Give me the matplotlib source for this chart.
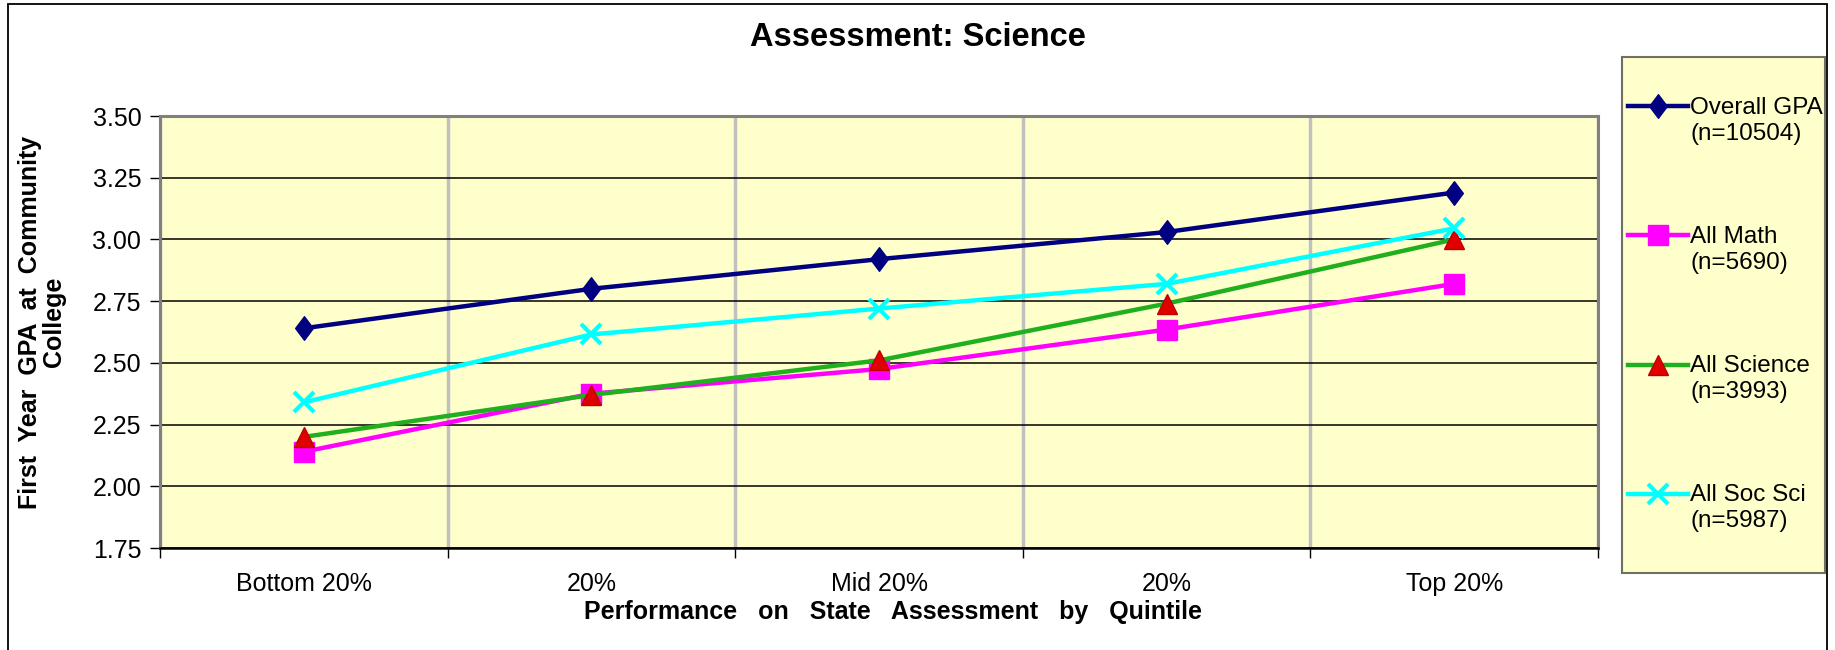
import numpy as np
import matplotlib
matplotlib.use("Agg")
import matplotlib.pyplot as plt
from matplotlib.patches import Rectangle
from matplotlib.path import Path
from matplotlib.legend_handler import HandlerLine2D

plt.rcParams['font.family'] = ['Liberation Sans', 'DejaVu Sans']

# data
quintiles = ['Bottom 20%', '20%', 'Mid 20%', '20%', 'Top 20%']
overall_gpa = [2.64, 2.80, 2.92, 3.03, 3.19]
all_math = [2.14, 2.375, 2.475, 2.635, 2.82]
all_science = [2.20, 2.37, 2.51, 2.74, 3.00]
all_soc_sci = [2.34, 2.615, 2.72, 2.82, 3.045]
labels = ['Overall GPA\n(n=10504)', 'All Math\n(n=5690)',
          'All Science\n(n=3993)', 'All Soc Sci\n(n=5987)']
yticks = [1.75, 2.00, 2.25, 2.50, 2.75, 3.00, 3.25, 3.50]

W, H = 1835, 650
fig = plt.figure(figsize=(W / 100, H / 100), dpi=100)

# outer chart border
fig.patches.append(Rectangle((8 / W, -0.02), (1827 - 8) / W, 1 - 4 / H + 0.02,
                             transform=fig.transFigure, fill=False,
                             edgecolor='black', lw=1.3))

ax = fig.add_axes([160 / W, 1 - 548 / H, (1598 - 160) / W, (548 - 116) / H])
ax.set_facecolor('#FFFFCC')

x = np.arange(len(quintiles))
diamond = Path([(0, 1), (0.75, 0), (0, -1), (-0.75, 0), (0, 1)],
               [Path.MOVETO, Path.LINETO, Path.LINETO, Path.LINETO, Path.CLOSEPOLY])

ax.plot(x, overall_gpa, color='#000080', lw=3.2, marker=diamond, ms=17,
        mfc='#000080', mec='#000080', label=labels[0], zorder=5)
ax.plot(x, all_math, color='#FF00FF', lw=3.2, marker='s', ms=14,
        mfc='#FF00FF', mec='#FF00FF', label=labels[1], zorder=4)
ax.plot(x, all_science, color='#1FAF1F', lw=3.2, marker='^', ms=14,
        mfc='#E00000', mec='#C00000', label=labels[2], zorder=4)
ax.plot(x, all_soc_sci, color='#00FFFF', lw=3.2, marker='x', ms=15, mew=3,
        mec='#00FFFF', label=labels[3], zorder=4)

ax.set_xlim(-0.5, len(quintiles) - 0.5)
ax.set_ylim(1.75, 3.5)
ax.set_yticks(yticks)
ax.set_yticklabels([f'{v:.2f}' for v in yticks])
ax.set_xticks(x)
ax.set_xticklabels(quintiles)
ax.set_xticks(np.arange(-0.5, len(quintiles)), minor=True)
ax.tick_params(axis='x', which='major', length=0, pad=17, labelsize=18)
ax.tick_params(axis='x', which='minor', length=7, width=1, direction='out', color='black')
ax.tick_params(axis='y', length=7, width=1, pad=6.5, labelsize=18)

ax.grid(axis='y', color='black', lw=1.1)
ax.grid(axis='x', which='minor', color='#C0C0C0', lw=2.5)
ax.set_axisbelow(True)
for s in ['top', 'right', 'left']:
    ax.spines[s].set_color('#808080')
    ax.spines[s].set_linewidth(2.2)
ax.spines['bottom'].set_color('black')
ax.spines['bottom'].set_linewidth(1.8)

ax.set_xlabel('Performance   on   State   Assessment   by   Quintile',
              fontsize=18, fontweight='bold', va='center')
ax.xaxis.set_label_coords(0.51, -(612 - 548) / 432)
ax.set_ylabel('First  Year  GPA  at  Community\nCollege', fontsize=18,
              fontweight='bold', va='center', linespacing=1.05)
ax.yaxis.set_label_coords((42 - 160) / 1438, 0.5 + 10 / 432)

fig.text(0.5, 1 - 37 / H, 'Assessment: Science', ha='center', va='center',
         fontsize=23.5, fontweight='bold')

# legend box
fig.patches.append(Rectangle((1622 / W, 1 - 573 / H), (1825 - 1622) / W, (573 - 57) / H,
                             transform=fig.transFigure, facecolor='#FFFFCC',
                             edgecolor='#707060', lw=1.5, zorder=0))


class UpHandler(HandlerLine2D):
    def create_artists(self, legend, orig_handle, xdescent, ydescent,
                       width, height, fontsize, trans):
        arts = super().create_artists(legend, orig_handle, xdescent, ydescent,
                                      width, height, fontsize, trans)
        for a in arts:
            a.set_ydata(np.asarray(a.get_ydata()) + fontsize * 0.6)
        return arts


handles, labs = ax.get_legend_handles_labels()
leg = fig.legend(handles, labs, loc='upper left',
                 bbox_to_anchor=(1628 / W, 1 - 97 / H),
                 bbox_transform=fig.transFigure, frameon=False, fontsize=17.5,
                 numpoints=1, handlelength=2.45, handletextpad=0.12,
                 borderpad=0, borderaxespad=0, labelspacing=3.34,
                 handler_map={matplotlib.lines.Line2D: UpHandler()})
for t in leg.get_texts():
    t.set_linespacing(1.23)

fig.savefig('out.png', dpi=100)
